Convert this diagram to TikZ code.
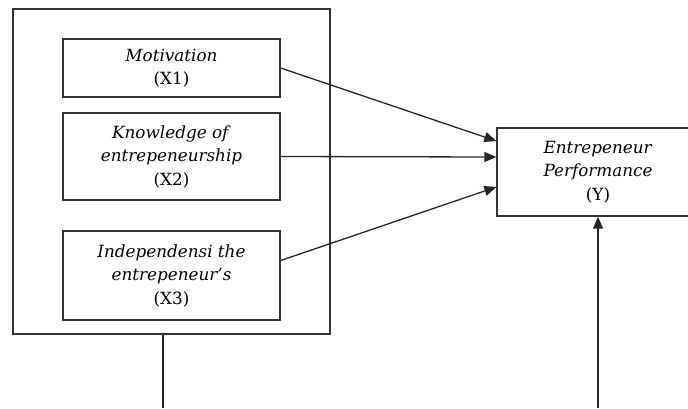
\documentclass[tikz,border=0pt]{standalone}
\usepackage{fontspec}
\setmainfont{DejaVu Serif}
\usetikzlibrary{arrows.meta,positioning}

\begin{document}
\begin{tikzpicture}[x=1pt,y=-1pt, every node/.style={align=center,font=\fontsize{16.8}{23.5}\selectfont}]
\tikzset{varbox/.style={draw=black!80,line width=1.3pt,inner sep=0pt,minimum width=217pt}, link/.style={-{Triangle[length=12pt,width=10pt]},draw=black!85,line width=1.3pt}}
\useasboundingbox (0,0) rectangle (688,408);
\begin{scope}
\clip (0,0) rectangle (688,408);
\node[draw=black!80,line width=1.3pt,minimum width=317pt,minimum height=325pt] (outer) at (171.5,171.5) {};
\node[varbox,minimum height=58pt] (x1) at (171.5,68) {\textit{Motivation}\\(X1)};
\node[varbox,minimum height=87pt] (x2) at (171.5,156.5) {\textit{Knowledge of}\\\textit{entrepeneurship}\\(X2)};
\node[varbox,minimum height=89pt] (x3) at (171.5,275.5) {\textit{Independensi the}\\\textit{entrepeneur's}\\(X3)};
\node[draw=black!80,line width=1.3pt,inner sep=0pt,minimum width=202pt,minimum height=88pt] (perf) at (598,172) {\textit{Entrepeneur}\\\textit{Performance}\\(Y)};
\end{scope}
\coordinate (b1) at (163,408);
\coordinate (b2) at (598,408);
\draw[link] (x1.east) -- ([yshift=31pt]perf.west);
\draw[link] (x2.east) -- ([yshift=15pt]perf.west);
\draw[link] ([yshift=15pt]x3.east) -- ([yshift=-15pt]perf.west);
\draw[draw=black!85,line width=1.3pt] (b1) -- (b1 |- outer.south);
\draw[link] (b2) -- (perf.south);
\end{tikzpicture}
\end{document}
